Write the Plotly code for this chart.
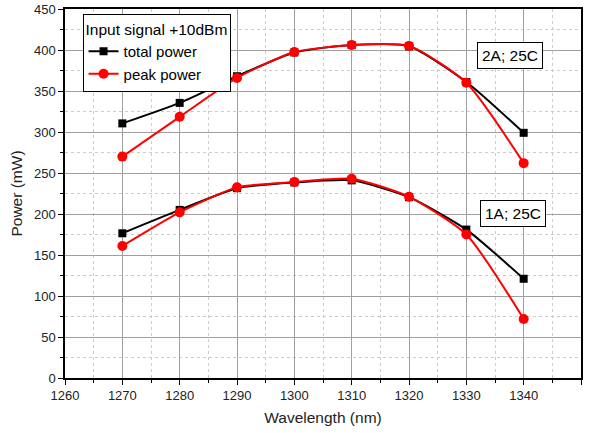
import plotly.graph_objects as go

wavelength = [1270, 1280, 1290, 1300, 1310, 1320, 1330, 1340]

total_2a = [310.5, 335.5, 368, 397, 406, 404.5, 361, 299]
peak_2a = [270, 318.5, 366, 397.5, 406, 405, 360, 262]

total_1a = [176.5, 205, 231.5, 238.5, 241, 220.5, 181, 121]
peak_1a = [161, 202, 232.5, 239, 243, 221, 175, 72]

x_ticks = list(range(1260, 1351, 10))
y_ticks = list(range(0, 451, 50))

FONT = "Liberation Sans, Arial, sans-serif"

fig = go.Figure()

def add_series(y, name, color, symbol, size, show):
    fig.add_trace(go.Scatter(
        x=wavelength, y=y, name=name, mode="lines+markers",
        line=dict(color=color, width=2, shape="spline", smoothing=0.6),
        marker=dict(color=color, symbol=symbol, size=size),
        showlegend=show, legendgroup=name,
    ))

add_series(total_2a, "total power", "black", "square", 8, True)
add_series(peak_2a, "peak power", "red", "circle", 10, True)
add_series(total_1a, "total power", "black", "square", 8, False)
add_series(peak_1a, "peak power", "red", "circle", 10, False)

axis_common = dict(
    showline=True, linecolor="black", linewidth=1.5, mirror=True,
    ticks="outside", ticklen=5, tickcolor="black", tickwidth=1,
    showgrid=True, gridcolor="#a0a0a0", gridwidth=1,
    zeroline=False, automargin=False,
    tickfont=dict(family=FONT, size=13, color="#222"),
)

fig.update_xaxes(
    range=[1260, 1350], tickvals=x_ticks,
    title=dict(text="Wavelength (nm)", font=dict(family=FONT, size=15.5, color="#222"), standoff=10),
    minor=dict(dtick=5, showgrid=True, griddash="dot", gridcolor="#cccccc",
               ticks="outside", ticklen=3, tickcolor="black"),
    **axis_common,
)
fig.update_yaxes(
    range=[0, 450], tickvals=y_ticks,
    title=dict(text="Power (mW)", font=dict(family=FONT, size=15.5, color="#222"), standoff=8),
    minor=dict(dtick=25, showgrid=True, griddash="dot", gridcolor="#cccccc",
               ticks="outside", ticklen=3, tickcolor="black"),
    **axis_common,
)

for txt, xv, yv in [("2A; 25C", 1337.6, 393), ("1A; 25C", 1338.2, 201)]:
    fig.add_annotation(
        x=xv, y=yv, xref="x", yref="y", text=txt, showarrow=False,
        font=dict(family=FONT, size=15.5, color="black"),
        bordercolor="black", borderwidth=1, borderpad=4, bgcolor="white",
    )

fig.update_layout(
    width=595, height=433,
    margin=dict(l=65, r=14, t=9, b=55),
    paper_bgcolor="white", plot_bgcolor="white",
    legend=dict(
        x=0.034, y=0.987, xanchor="left", yanchor="top",
        bgcolor="white", bordercolor="black", borderwidth=1,
        title=dict(text="Input signal +10dBm", font=dict(family=FONT, size=15.5, color="black")),
        font=dict(family=FONT, size=15, color="black"),
        tracegroupgap=0, itemwidth=30,
    ),
)

fig.write_html("out.html")
